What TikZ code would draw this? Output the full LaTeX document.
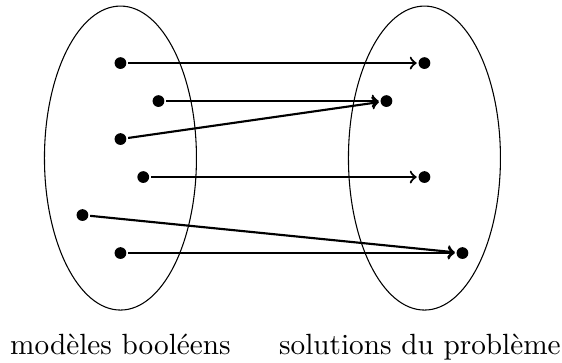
\documentclass[11pt,tikz,border=0pt]{standalone}

\begin{document}
\begin{tikzpicture}[x = 0.5cm, y = 0.5cm,
        point/.style  = {circle, fill = black, inner sep = 0pt, minimum size = 4.4pt, outer sep = 0.7pt},
        fleche/.style = {->, thick}]
    \useasboundingbox (-3.17, -5.39) rectangle (11.62, 4.16);

    \def\modeles   {(0, 0) ellipse (2 and 4)}
    \def\solutions {(8, 0) ellipse (2 and 4)}

    \draw \modeles;    % Ensemble des modeles
    \draw \solutions;  % Ensemble des solutions

    % Modeles booleens
    \node[point] (m1) at ( 0.0,  2.5) {};
    \node[point] (m2) at ( 1.0,  1.5) {};
    \node[point] (m3) at ( 0.0,  0.5) {};
    \node[point] (m4) at ( 0.6, -0.5) {};
    \node[point] (m5) at (-1.0, -1.5) {};
    \node[point] (m6) at ( 0.0, -2.5) {};

    % Solutions du probleme
    \node[point] (s1) at (8.0,  2.5) {};
    \node[point] (s2) at (7.0,  1.5) {};
    \node[point] (s3) at (8.0, -0.5) {};
    \node[point] (s4) at (9.0, -2.5) {};

    \draw[fleche] (m1) -- (s1);
    \draw[fleche] (m2) -- (s2);
    \draw[fleche] (m3) -- (s2);
    \draw[fleche] (m4) -- (s3);
    \draw[fleche] (m5) -- (s4);
    \draw[fleche] (m6) -- (s4);

    \node[anchor = base] (lmodeles)   at (0.0,  -5.16) {modèles booléens};
    \node[anchor = base] (lsolutions) at (7.88, -5.16) {solutions du problème};
\end{tikzpicture}
\end{document}
